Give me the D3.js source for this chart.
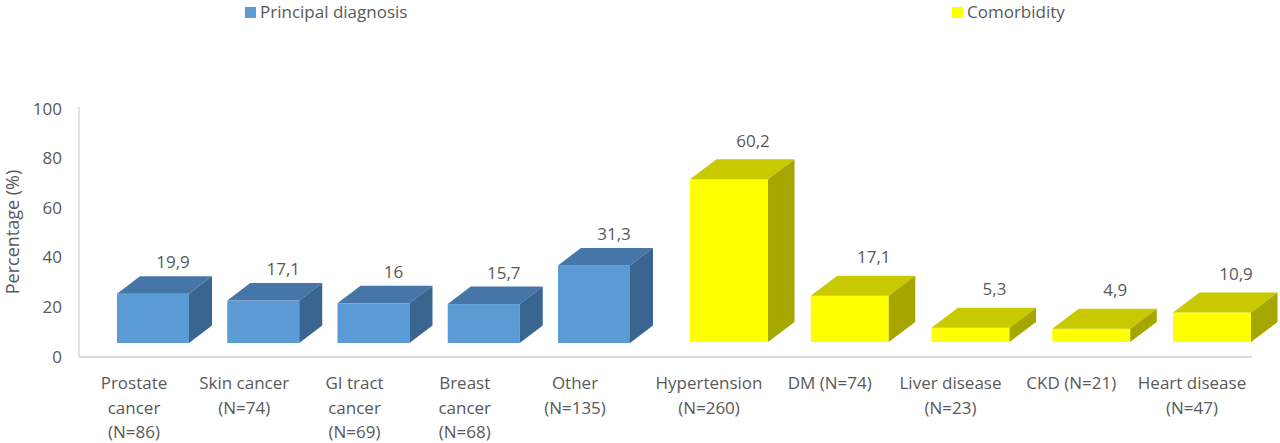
<!DOCTYPE html>
<html>
<head>
<meta charset="utf-8">
<script src="https://cdn.jsdelivr.net/npm/d3@7"></script>
<style>
  body { margin: 0; background: #fff; }
  svg text { font-family: "Open Sans", sans-serif; fill: #595959; }
</style>
</head>
<body>
<svg id="svg" width="1280" height="443"></svg>
<script>
// ---- data ----
const principalCats = ["Prostate\ncancer\n(N=86)", "Skin cancer\n(N=74)", "GI tract\ncancer\n(N=69)", "Breast\ncancer\n(N=68)", "Other\n(N=135)"];
const principalVals = [19.9, 17.1, 16, 15.7, 31.3];
const comorbCats = ["Hypertension\n(N=260)", "DM (N=74)", "Liver disease\n(N=23)", "CKD (N=21)", "Heart disease\n(N=47)"];
const comorbVals = [60.2, 17.1, 5.3, 4.9, 10.9];
const yTicks = [0, 20, 40, 60, 80, 100];
const seriesNames = ["Principal diagnosis", "Comorbidity"];

const svg = d3.select("#svg");

// axis scale (back wall)
const y = d3.scaleLinear().domain([0, 100]).range([357, 109]);

// the two groups are drawn at slightly different perspective sizes
const groups = [
    {
        cats: principalCats, vals: principalVals,
        x: d3.scaleBand().domain(principalCats).range([78.75, 668.25]).padding(0.347),
        yb: d3.scaleLinear().domain([0, 100]).range([343, 343 - 248]),
        dx: 23, dy: -17.5, labDx: 20, labGap: 8, catDx: -19,
        front: "#5b9bd5", top: "#4676a8", side: "#3b6591"
    },
    {
        cats: comorbCats, vals: comorbVals,
        x: d3.scaleBand().domain(comorbCats).range([647.25, 1293.75]).padding(0.354),
        yb: d3.scaleLinear().domain([0, 100]).range([342, 342 - 248 * 1.09]),
        dx: 26.5, dy: -20, labDx: 24, labGap: 12.5, catDx: -20,
        front: "#ffff00", top: "#c9c900", side: "#a6a600"
    }
];

// axes lines
svg.append("line")
    .attr("x1", 79).attr("x2", 79)
    .attr("y1", y(100) - 2).attr("y2", y(0))
    .attr("stroke", "#d9d9d9").attr("stroke-width", 1.5);
svg.append("line")
    .attr("x1", 79).attr("x2", 1252)
    .attr("y1", y(0)).attr("y2", y(0))
    .attr("stroke", "#d9d9d9").attr("stroke-width", 2);

// y tick labels
svg.selectAll("text.ytick")
    .data(yTicks)
    .enter().append("text")
    .attr("class", "ytick")
    .attr("x", 62)
    .attr("y", d => y(d) + 1)
    .attr("text-anchor", "end")
    .attr("dominant-baseline", "middle")
    .style("font-size", "17px")
    .text(d => d);

svg.append("text")
    .attr("transform", "translate(19," + 232 + ") rotate(-90)")
    .attr("text-anchor", "middle")
    .style("font-size", "18px")
    .text("Percentage (%)");

groups.forEach(function (g) {
    const bw = g.x.bandwidth();
    const bars = svg.append("g").selectAll("g.bar")
        .data(g.cats.map((c, i) => ({cat: c, val: g.vals[i]})))
        .enter().append("g").attr("class", "bar");

    // front face
    bars.append("rect")
        .attr("x", d => g.x(d.cat))
        .attr("y", d => g.yb(d.val))
        .attr("width", bw)
        .attr("height", d => g.yb(0) - g.yb(d.val))
        .attr("fill", g.front);

    // top face
    bars.append("path")
        .attr("fill", g.top)
        .attr("d", function (d) {
            let x0 = g.x(d.cat), x1 = x0 + bw, t = g.yb(d.val);
            return `M ${x0} ${t} L ${x1} ${t} L ${x1 + g.dx} ${t + g.dy} L ${x0 + g.dx} ${t + g.dy} Z`;
        });

    // side face
    bars.append("path")
        .attr("fill", g.side)
        .attr("d", function (d) {
            let x1 = g.x(d.cat) + bw, t = g.yb(d.val), b = g.yb(0);
            return `M ${x1} ${t} L ${x1 + g.dx} ${t + g.dy} L ${x1 + g.dx} ${b + g.dy} L ${x1} ${b} Z`;
        });

    // value labels
    bars.append("text")
        .attr("x", d => g.x(d.cat) + bw / 2 + g.labDx)
        .attr("y", d => g.yb(d.val) + g.dy - g.labGap)
        .attr("text-anchor", "middle")
        .style("font-size", "17px")
        .text(d => String(d.val).replace(".", ","));

    // category labels
    bars.append("text")
        .attr("text-anchor", "middle")
        .style("font-size", "17px")
        .selectAll("tspan")
        .data(d => d.cat.split("\n").map(s => ({s: s, cx: g.x(d.cat) + bw / 2 + g.catDx})))
        .enter().append("tspan")
        .attr("x", d => d.cx)
        .attr("y", (d, i) => 389 + i * 24.5)
        .text(d => d.s);
});

// legend
const legendX = [245, 952];
const legend = svg.selectAll("g.legend")
    .data(seriesNames)
    .enter().append("g")
    .attr("class", "legend")
    .attr("transform", (d, i) => "translate(" + legendX[i] + ",0)");
legend.append("rect")
    .attr("x", 0).attr("y", 7)
    .attr("width", 11).attr("height", 11)
    .attr("fill", (d, i) => groups[i].front);
legend.append("text")
    .attr("x", 15).attr("y", 18)
    .style("font-size", "17px")
    .text(d => d);
</script>
</body>
</html>
